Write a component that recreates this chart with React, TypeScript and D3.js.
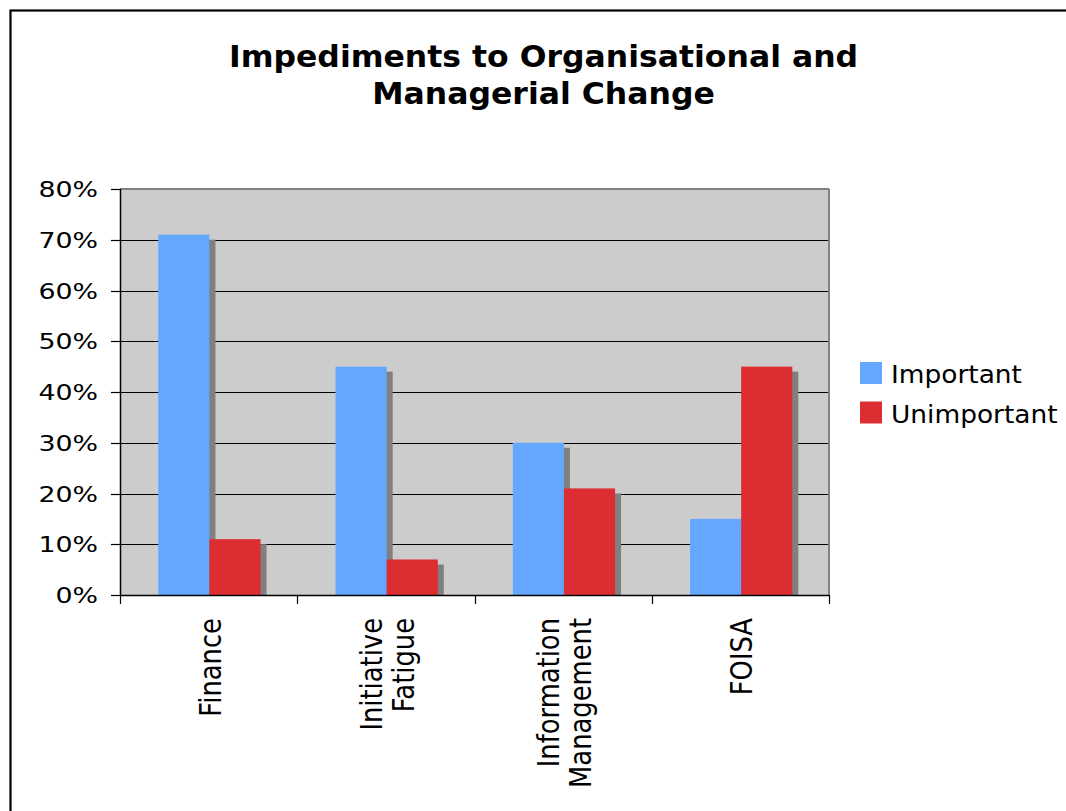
import * as d3 from 'd3'

const categories: string[][] = [['Finance'], ['Initiative', 'Fatigue'], ['Information', 'Management'], ['FOISA']]
const seriesNames = ['Important', 'Unimportant']
const important = [0.71, 0.45, 0.3, 0.15]
const unimportant = [0.11, 0.07, 0.21, 0.45]
const yTicks = [0, 0.1, 0.2, 0.3, 0.4, 0.5, 0.6, 0.7, 0.8]
const titleLines = ['Impediments to Organisational and', 'Managerial Change']

const COLORS = ['#63a8fe', '#dc2d32']
const SHADOW = '#808080'
const FONT = '"DejaVu Sans", Verdana, sans-serif'

const W = 1066
const H = 811
const PLOT = { left: 120, right: 829, top: 189, bottom: 595 }
const DEPTH = { dx: 6, dy: 5 }

export default function App() {
  const x = d3
    .scaleBand<number>()
    .domain(categories.map((_, i) => i))
    .range([PLOT.left, PLOT.right])
  const bw = x.bandwidth()
  const groupStart = bw * 0.216
  const xSub = d3
    .scaleBand<string>()
    .domain(seriesNames)
    .range([groupStart, groupStart + bw * 0.577])
  const y = d3.scaleLinear().domain([0, 0.8]).range([PLOT.bottom, PLOT.top])
  const fmt = d3.format('.0%')
  const values = [important, unimportant]

  return (
    <svg width={W} height={H} style={{ position: 'absolute', left: 0, top: 0, background: '#fff' }}>
      <rect x={10.5} y={10.5} width={W + 20} height={H + 20} fill="#fff" stroke="#000" strokeWidth={2.2} />

      {/* title */}
      <g fontFamily={FONT} fontWeight="bold" fontSize={30} textAnchor="middle">
        {titleLines.map((t, i) => (
          <text key={t} transform={`translate(543.5,${67 + i * 37}) scale(1.05,1)`}>
            {t}
          </text>
        ))}
      </g>

      {/* plot background */}
      <rect x={PLOT.left} y={PLOT.top} width={PLOT.right - PLOT.left} height={PLOT.bottom - PLOT.top} fill="#cccccc" />

      {/* gridlines */}
      {yTicks.slice(1, -1).map((t) => (
        <line key={t} x1={PLOT.left} x2={PLOT.right} y1={Math.round(y(t)) + 0.5} y2={Math.round(y(t)) + 0.5} stroke="#000" strokeWidth={1.2} />
      ))}
      <line x1={PLOT.left} x2={PLOT.right} y1={PLOT.top} y2={PLOT.top} stroke={SHADOW} strokeWidth={2} />
      <line x1={PLOT.right} x2={PLOT.right} y1={PLOT.top} y2={PLOT.bottom} stroke={SHADOW} strokeWidth={2} />

      {/* bars with depth shadow */}
      {categories.map((_, ci) => (
        <g key={ci}>
          {seriesNames.map((s, si) => {
            const v = values[si][ci]
            const bx = (x(ci) ?? 0) + (xSub(s) ?? 0)
            const by = y(v)
            const w = xSub.bandwidth()
            return (
              <g key={s}>
                <rect x={bx + DEPTH.dx} y={by + DEPTH.dy} width={w} height={PLOT.bottom - by - DEPTH.dy} fill={SHADOW} />
                <rect x={bx} y={by} width={w} height={PLOT.bottom - by} fill={COLORS[si]} />
              </g>
            )
          })}
        </g>
      ))}

      {/* y axis */}
      <line x1={PLOT.left + 0.5} x2={PLOT.left + 0.5} y1={PLOT.top} y2={PLOT.bottom} stroke="#000" strokeWidth={1.5} />
      {yTicks.map((t) => (
        <g key={t}>
          <line x1={111} x2={PLOT.left} y1={Math.round(y(t)) + 0.5} y2={Math.round(y(t)) + 0.5} stroke="#000" strokeWidth={1.2} />
          <text
            transform={`translate(98,${y(t) + 8}) scale(1.22,1)`}
            textAnchor="end"
            fontFamily={FONT}
            fontSize={22}
            fill="#000"
          >
            {fmt(t)}
          </text>
        </g>
      ))}

      {/* x axis */}
      <line x1={PLOT.left} x2={PLOT.right} y1={PLOT.bottom + 0.5} y2={PLOT.bottom + 0.5} stroke="#000" strokeWidth={1.5} />
      {d3.range(categories.length + 1).map((i) => {
        const tx = Math.round(PLOT.left + i * bw) + 0.5
        return <line key={i} x1={tx} x2={tx} y1={PLOT.bottom} y2={PLOT.bottom + 9} stroke="#000" strokeWidth={1.2} />
      })}
      {categories.map((lines, ci) => {
        const cx = (x(ci) ?? 0) + bw / 2
        return lines.map((ln, li) => {
          const bx = cx + 12 + (li - (lines.length - 1) / 2) * 32
          return (
            <text
              key={ln}
              transform={`translate(${bx},618) scale(1.2,1) rotate(-90)`}
              textAnchor="end"
              fontFamily={FONT}
              fontSize={25.8}
              fill="#000"
            >
              {ln}
            </text>
          )
        })
      })}

      {/* legend */}
      {seriesNames.map((s, i) => (
        <g key={s} transform={`translate(860,${362 + i * 39.5})`}>
          <rect width={22} height={22} fill={COLORS[i]} />
          <text transform="translate(31,21) scale(1.07,1)" fontFamily={FONT} fontSize={24.7} fill="#000">
            {s}
          </text>
        </g>
      ))}
    </svg>
  )
}
